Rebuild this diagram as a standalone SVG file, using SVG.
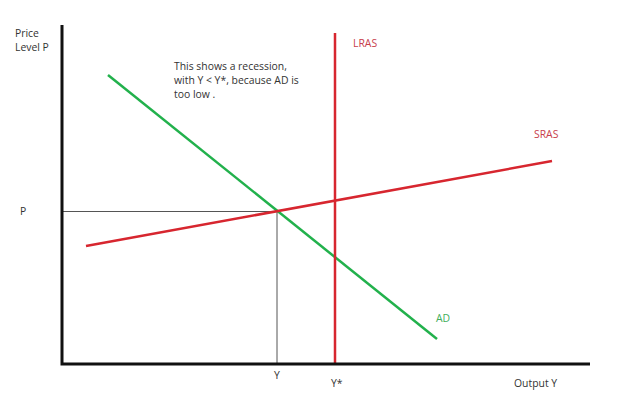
<svg xmlns="http://www.w3.org/2000/svg" width="640" height="400" viewBox="0 0 640 400">
<style>
text{font-family:"Open Sans","Liberation Sans",sans-serif;font-size:10.4px;fill:#333}
.red{fill:#c8404c}
.grn{fill:#3fae5a}
.axis{stroke:#111;stroke-width:3;fill:none}
.thin{stroke:#555;stroke-width:1;fill:none}
.rl{stroke:#d7262f;stroke-width:2.5;fill:none}
.gl{stroke:#22b14c;stroke-width:2.5;fill:none}
</style>
<rect width="640" height="400" fill="#fff"/>
<g id="connectors">
<path class="thin" d="M62 211.5H277V364"/>
<path class="gl" d="M108 75L437 339"/>
<path class="rl" d="M86 246L552 161"/>
<path class="rl" d="M335 33V364"/>
<path class="axis" d="M62 25V364H590"/>
</g>
<g id="label-price"><text x="15" y="37">Price</text><text x="15" y="51">Level P</text></g>
<g id="note"><text x="174" y="70">This shows a recession,</text><text x="174" y="84">with Y &lt; Y*, because AD is</text><text x="174" y="98">too low .</text></g>
<g id="lras"><text class="red" x="353" y="47">LRAS</text></g>
<g id="sras"><text class="red" x="534" y="138">SRAS</text></g>
<g id="ad"><text class="grn" x="436" y="322">AD</text></g>
<g id="p"><text x="20" y="215">P</text></g>
<g id="y"><text x="274" y="379">Y</text></g>
<g id="ystar"><text x="331" y="387">Y*</text></g>
<g id="output"><text x="514" y="387">Output Y</text></g>
</svg>
